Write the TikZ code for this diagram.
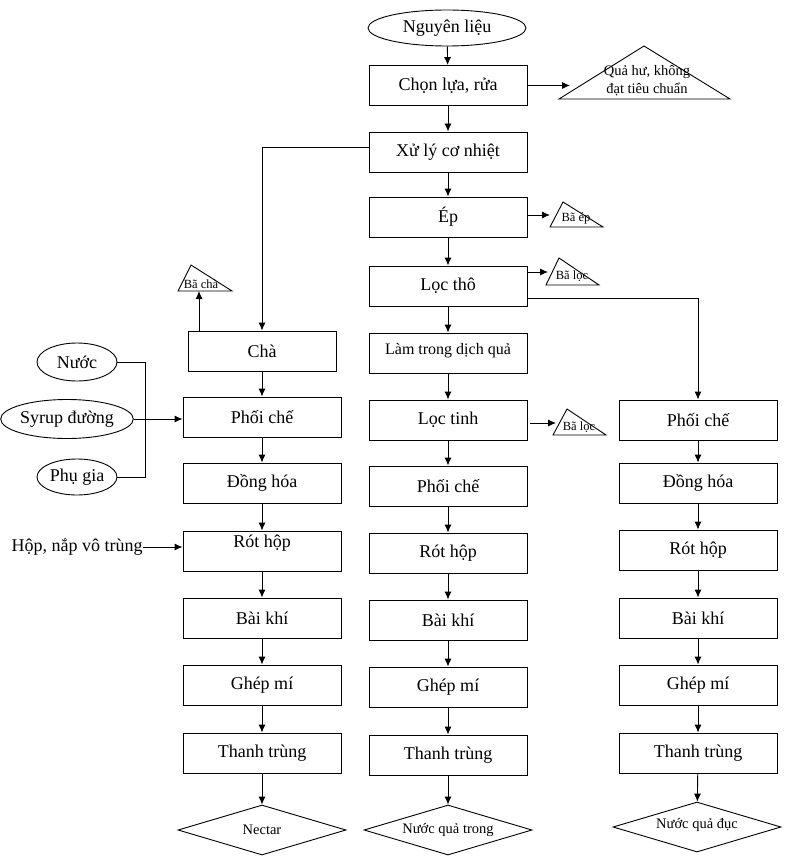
\documentclass[tikz,border=0pt]{standalone}
\usepackage{fontspec}
\setmainfont{Liberation Serif}
\usetikzlibrary{shapes.geometric, arrows.meta}

\tikzset{
	buoc/.style={draw, minimum width=158pt, minimum height=40pt, inner sep=0pt, font=\fontsize{18}{20}\selectfont},
	vao/.style={draw, ellipse, inner sep=0pt, font=\fontsize{18}{20}\selectfont},
	sanpham/.style={draw, diamond, aspect=3.4, minimum width=168pt, minimum height=50pt, inner sep=0pt, font=\fontsize{14.5}{16}\selectfont},
	bo/.style={inner sep=0pt, font=\fontsize{12.5}{14}\selectfont}
}

\begin{document}
\begin{tikzpicture}[x=1pt, y=-1pt, >={Latex[length=8pt,width=7pt]}, line width=0.9pt]

	\useasboundingbox (0,0) rectangle (805,861);

	\node[vao, minimum width=158pt, minimum height=36pt] (nl) at (447,28) {Nguyên liệu};

            \foreach \ten/\y/\chu in {chon/85.5/{Chọn lựa, rửa}, xuly/152/{Xử lý cơ nhiệt}, ep/217/Ép, loctho/286/Lọc thô,
                loctinh/420/Lọc tinh, phoib/486/Phối chế, rotb/553/Rót hộp, khib/620/Bài khí, ghepb/687/Ghép mí, trungb/755/Thanh trùng}{
              \node[buoc] (\ten) at (448,\y) {\chu};
            }
            \node[buoc, font=\fontsize{16}{18}\selectfont, text depth=8pt] (lamtrong) at (448,353) {Làm trong dịch quả};

            \node[buoc, minimum width=148pt] (cha) at (262,351) {Chà};
            \foreach \ten/\y/\chu in {phoia/417/Phối chế, donga/483/Đồng hóa, khia/618/Bài khí, ghepa/685/Ghép mí, trunga/753/Thanh trùng}{
              \node[buoc] (\ten) at (262,\y) {\chu};
            }
            \node[buoc, text depth=20pt] (rota) at (262,551) {Rót hộp};

            \foreach \ten/\y/\chu in {phoic/420/Phối chế, dongc/483/Đồng hóa, rotc/550/Rót hộp, khic/618/Bài khí, ghepc/685/Ghép mí, trungc/753/Thanh trùng}{
              \node[buoc] (\ten) at (698,\y) {\chu};
            }

            \node[sanpham] (nectar) at (262,830) {Nectar};
            \node[sanpham] (trong) at (448,830) {Nước quả trong};
            \node[sanpham, text depth=8pt] (duc) at (697,827) {Nước quả đục};

            \foreach \a/\b in {nl/chon, chon/xuly, xuly/ep, ep/loctho, loctho/lamtrong, lamtrong/loctinh, loctinh/phoib, phoib/rotb,
                rotb/khib, khib/ghepb, ghepb/trungb, trungb/trong, cha/phoia, phoia/donga, donga/rota, rota/khia, khia/ghepa,
                ghepa/trunga, trunga/nectar, phoic/dongc, dongc/rotc, rotc/khic, khic/ghepc, ghepc/trungc, trungc/duc}{
              \draw[->] (\a) -- (\b);
            }

            \draw[->] ([yshift=5pt]xuly.west) -| (cha.north);
            \draw[->] ([yshift=-12pt]loctho.east) -| (phoic.north);

            % ba thai
            \draw (559,99) -- (644,46) -- (730,99) -- cycle;
            \node[align=center, inner sep=0pt, font=\fontsize{14.5}{18}\selectfont] (quahu) at (647,81) {Quả hư, không\\đạt tiêu chuẩn};
            \coordinate (dquahu) at (570,85.5);
            \draw[->] (chon.east) -- (dquahu);

            \draw (550,227) -- (563,202) -- (603,227) -- cycle;
            \node[bo] (baep) at (576,218) {Bã ép};
            \coordinate (dbaep) at (550,215);
            \draw[->] (ep.east |- dbaep) -- (dbaep);

            \draw (546,285) -- (559,258) -- (599,285) -- cycle;
            \node[bo] (baloc) at (572,276) {Bã lọc};
            \coordinate (dbaloc) at (548,272);
            \draw[->] (loctho.east |- dbaloc) -- (dbaloc);

            \draw (553,435) -- (567,409) -- (606,435) -- cycle;
            \node[bo] (baloctinh) at (579,427) {Bã lọc};
            \coordinate (dbaloctinh) at (556,423);
            \draw[->] ([xshift=3pt]loctinh.east |- dbaloctinh) -- (dbaloctinh);

            \draw (178,291) -- (191,265) -- (232,291) -- cycle;
            \node[bo] (bacha) at (201,284) {Bã chà};
            \coordinate (dbacha) at (199,291);
            \draw[->] (cha.north -| dbacha) -- (dbacha);

            % nguyen lieu phu
            \node[vao, minimum width=80pt, minimum height=38pt] (nuoc) at (77,362) {Nước};
            \node[vao, minimum width=105pt, minimum height=39pt] (syrup) at (67,419) {Syrup đường};
            \node[vao, minimum width=80pt, minimum height=36pt] (phugia) at (77,477) {Phụ gia};
            \coordinate (ngoac1) at (145,362);
            \coordinate (ngoac2) at (145,477);
            \draw (nuoc.east) -- (ngoac1) -- (ngoac2) -- (phugia.east);
            \draw[->] (syrup.east) -- (syrup.east -| phoia.west);

            \node[anchor=east, inner sep=0pt, font=\fontsize{18}{20}\selectfont] (hop) at (143,547) {Hộp, nắp vô trùng};
            \draw[->] (hop.east) -- (hop.east -| rota.west);

        \end{tikzpicture}
\end{document}
